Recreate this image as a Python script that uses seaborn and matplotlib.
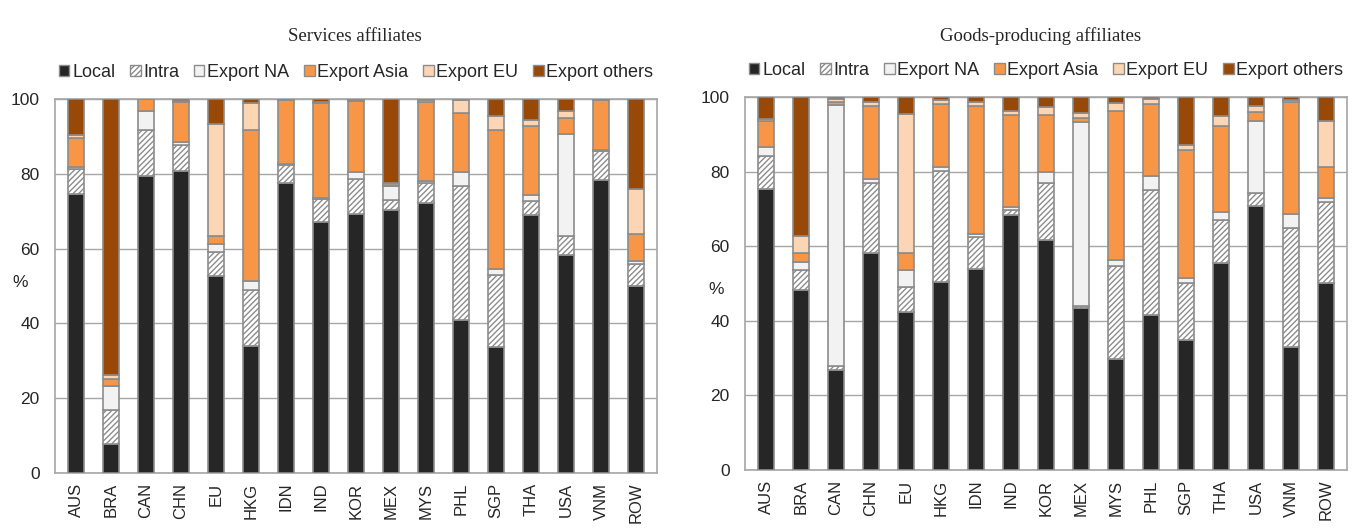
import numpy as np
import pandas as pd
import matplotlib
matplotlib.use("Agg")
import matplotlib.pyplot as plt
import seaborn as sns
from matplotlib.patches import Patch

COUNTRIES = ["AUS", "BRA", "CAN", "CHN", "EU", "HKG", "IDN", "IND", "KOR",
             "MEX", "MYS", "PHL", "SGP", "THA", "USA", "VNM", "ROW"]
SERIES = ["Local", "Intra", "Export NA", "Export Asia", "Export EU", "Export others"]

# services affiliates, % shares
svc_local = [74.7, 7.8, 79.5, 80.7, 52.6, 33.9, 77.5, 67.2, 69.3, 70.4, 72.2, 41.0, 33.6, 69.1, 58.4, 78.4, 50.1]
svc_intra = [6.6, 9.0, 12.3, 7.1, 6.5, 15.1, 4.9, 6.1, 9.3, 2.7, 5.2, 35.8, 19.2, 3.5, 4.9, 7.8, 5.9]
svc_na = [0.5, 6.4, 4.9, 0.8, 2.1, 2.4, 0.3, 0.3, 1.8, 3.7, 0.6, 3.6, 1.7, 1.6, 27.2, 0.2, 0.6]
svc_asia = [7.7, 1.9, 3.3, 10.7, 2.1, 40.2, 16.9, 25.3, 19.0, 0.3, 21.3, 15.9, 37.3, 18.5, 4.4, 13.4, 7.4]
svc_eu = [0.9, 1.2, 0.0, 0.2, 30.0, 7.2, 0.1, 0.4, 0.3, 0.3, 0.3, 3.5, 3.6, 1.6, 1.8, 0.1, 11.8]
svc_oth = [9.6, 73.7, 0.0, 0.5, 6.7, 1.2, 0.3, 0.7, 0.3, 22.6, 0.4, 0.2, 4.6, 5.7, 3.3, 0.1, 24.2]

# goods-producing affiliates, % shares
gds_local = [75.3, 48.3, 26.8, 58.1, 42.5, 50.5, 53.8, 68.3, 61.7, 43.4, 29.7, 41.6, 34.9, 55.6, 70.7, 33.1, 50.1]
gds_intra = [8.8, 5.4, 1.1, 18.8, 6.7, 29.8, 8.8, 1.5, 15.2, 0.6, 24.9, 33.4, 15.2, 11.5, 3.7, 31.7, 21.9]
gds_na = [2.5, 2.2, 70.0, 1.1, 4.5, 0.9, 0.7, 0.7, 3.1, 49.2, 1.7, 3.9, 1.3, 2.2, 19.1, 3.9, 0.9]
gds_asia = [6.9, 2.2, 0.7, 19.7, 4.4, 17.0, 34.2, 24.8, 15.3, 1.2, 40.1, 19.3, 34.5, 23.0, 2.4, 29.9, 8.3]
gds_eu = [0.6, 4.7, 0.9, 1.1, 37.4, 0.9, 1.3, 1.1, 2.0, 1.3, 2.0, 1.3, 1.3, 2.7, 1.6, 0.7, 12.5]
gds_oth = [5.9, 37.2, 0.5, 1.2, 4.5, 0.9, 1.2, 3.6, 2.7, 4.3, 1.6, 0.5, 12.8, 5.0, 2.5, 0.7, 6.3]

COLORS = ["#262626", "#ffffff", "#f2f2f2", "#f79646", "#fcd5b5", "#984807"]
HATCHES = [None, "//////", None, None, None, None]
EDGE = "#8c8c8c"
FS = 12.5

sns.set_style("white")
plt.rcParams["font.family"] = ["Liberation Sans", "DejaVu Sans"]
plt.rcParams["hatch.linewidth"] = 1.0


def stacked_panel(ax, series_vals):
    bottom = np.zeros(len(COUNTRIES))
    for vals, col, hatch in zip(series_vals, COLORS, HATCHES):
        df = pd.DataFrame({"country": COUNTRIES, "share": vals})
        sns.barplot(data=df, x="country", y="share", ax=ax, color=col,
                    bottom=bottom, width=0.43, errorbar=None, saturation=1,
                    edgecolor=EDGE, linewidth=1.2, hatch=hatch, zorder=3)
        bottom = bottom + np.array(vals)
    ax.set_ylim(0, 100)
    ax.set_xlim(-0.6, len(COUNTRIES) - 0.4)
    ax.set_yticks(range(0, 101, 20))
    ax.yaxis.grid(True, color="#a6a6a6", linewidth=1.0, zorder=0)
    ax.set_axisbelow(True)
    for s in ax.spines.values():
        s.set_color("#a6a6a6")
        s.set_linewidth(1.2)
    ax.tick_params(axis="x", labelrotation=90, labelsize=12, length=0, pad=7)
    ax.tick_params(axis="y", labelsize=FS, length=0, pad=11)
    ax.set_xlabel("")
    ax.set_ylabel("%", rotation=0, fontsize=FS)


fig = plt.figure(figsize=(13.65, 5.32), dpi=100)
ax1 = fig.add_axes([0.0403, 0.111, 0.441, 0.703])
ax2 = fig.add_axes([0.5458, 0.1165, 0.441, 0.701])

stacked_panel(ax1, [svc_local, svc_intra, svc_na, svc_asia, svc_eu, svc_oth])
stacked_panel(ax2, [gds_local, gds_intra, gds_na, gds_asia, gds_eu, gds_oth])
ax1.yaxis.set_label_coords(-0.058, 0.49)
ax2.yaxis.set_label_coords(-0.048, 0.464)

handles = [Patch(facecolor=c, edgecolor=EDGE, hatch=h, linewidth=1.0)
           for c, h in zip(COLORS, HATCHES)]
for ax in (ax1, ax2):
    ax.legend(handles, SERIES, ncol=6, loc="lower center",
              bbox_to_anchor=(0.5, 1.02), frameon=False, fontsize=13,
              handlelength=0.6, handleheight=0.6, handletextpad=0.15,
              columnspacing=0.8, borderaxespad=0.2)

fig.text(0.26, 0.932, "Services affiliates", ha="center", va="center",
         fontsize=13.5, family=["Liberation Serif", "DejaVu Serif"])
fig.text(0.762, 0.932, "Goods-producing affiliates", ha="center", va="center",
         fontsize=13.5, family=["Liberation Serif", "DejaVu Serif"])

fig.savefig("out.png", dpi=100)
